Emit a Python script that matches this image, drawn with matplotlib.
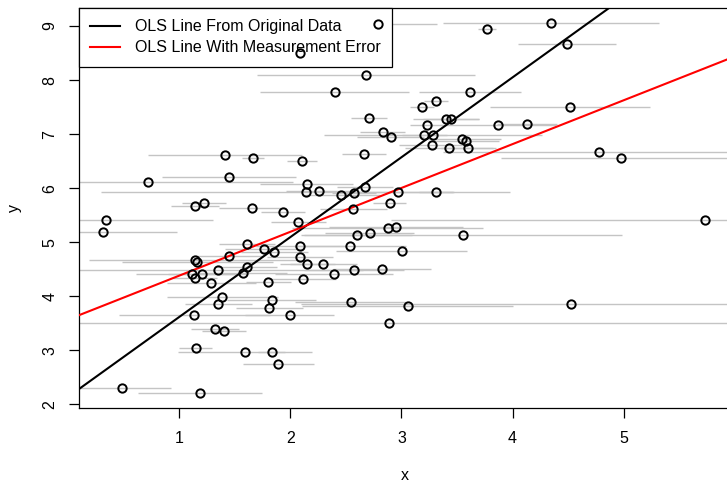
import numpy as np
import matplotlib
matplotlib.use("Agg")
import matplotlib.pyplot as plt

plt.rcParams['font.family'] = ['Liberation Sans', 'DejaVu Sans']

# ---- data ----
x_vals = [1.414, 1.663, 0.724, 1.450, 0.319, 0.344, 1.144, 1.225, 1.659, 1.609,
          1.452, 1.144, 1.166, 1.353, 1.114, 1.204, 1.144, 1.288, 1.609, 1.573,
          1.389, 1.353, 1.138, 1.324, 1.405, 1.150, 1.594, 1.834, 1.893, 0.485,
          1.189, 2.891, 1.998, 1.812, 1.834, 1.803, 2.112, 1.764, 1.857, 2.088,
          2.088, 2.154, 2.298, 2.397, 2.538, 2.571, 2.823, 3.003, 2.547, 3.057,
          4.525, 1.935, 2.073, 2.567, 2.598, 2.715, 2.877, 2.951, 2.895, 3.551,
          5.730, 2.148, 2.139, 2.262, 2.454, 2.574, 2.673, 2.969, 3.311, 2.664,
          2.106, 4.777, 4.975, 2.787, 4.345, 3.773, 4.487, 2.088, 2.679, 2.400,
          3.617, 3.311, 3.183, 4.519, 2.711, 3.401, 3.446, 3.228, 3.871, 4.127,
          2.832, 2.904, 3.206, 3.282, 3.278, 3.428, 3.545, 3.577, 3.602]
y_vals = [6.608, 6.552, 6.108, 6.201, 5.194, 5.405, 5.670, 5.731, 5.627, 4.966,
          4.739, 4.670, 4.642, 4.491, 4.411, 4.411, 4.332, 4.250, 4.546, 4.424,
          3.991, 3.856, 3.652, 3.388, 3.362, 3.047, 2.973, 2.962, 2.746, 2.307,
          2.215, 3.499, 3.652, 3.776, 3.924, 4.263, 4.319, 4.879, 4.813, 4.935,
          4.731, 4.596, 4.596, 4.406, 4.929, 4.485, 4.498, 4.831, 3.899, 3.819,
          3.850, 5.564, 5.373, 5.608, 5.133, 5.164, 5.268, 5.286, 5.719, 5.138,
          5.410, 6.077, 5.923, 5.953, 5.873, 5.916, 6.016, 5.934, 5.934, 6.626,
          6.508, 6.663, 6.558, 9.037, 9.056, 8.939, 8.673, 8.506, 8.099, 7.773,
          7.773, 7.618, 7.507, 7.496, 7.298, 7.285, 7.274, 7.174, 7.168, 7.192,
          7.044, 6.952, 6.983, 6.983, 6.793, 6.737, 6.909, 6.872, 6.737]
# half-width of the horizontal measurement-error bar of each point
x_err = [0.69, 0.10, 1.30, 0.60, 0.66, 0.96, 0.22, 0.20, 0.30, 0.25,
         0.30, 0.95, 0.68, 1.30, 0.50, 0.30, 0.20, 0.40, 0.27, 0.40,
         0.50, 0.30, 0.68, 0.22, 0.20, 0.15, 0.60, 0.12, 0.32, 0.44,
         0.56, 3.20, 0.40, 0.30, 0.40, 0.20, 0.30, 0.35, 0.30, 0.40,
         0.30, 0.25, 0.30, 0.53, 0.50, 0.45, 0.44, 0.59, 0.50, 0.95,
         2.43, 0.20, 0.25, 0.30, 0.50, 0.40, 0.86, 0.60, 0.15, 1.43,
         2.82, 0.42, 1.84, 0.30, 0.35, 0.20, 0.25, 0.50, 0.15, 0.20,
         0.135, 1.40, 1.08, 0.53, 0.97, 0.08, 0.44, 0.30, 0.98, 0.67,
         0.46, 0.11, 0.11, 0.72, 0.16, 0.30, 0.25, 0.15, 0.52, 0.27,
         0.20, 0.30, 0.20, 0.98, 0.30, 0.40, 0.35, 0.30, 0.25]

# OLS lines (intercept, slope)
ols_original = (2.134, 1.479)
ols_error = (3.567, 0.812)

legend_labels = ["OLS Line From Original Data", "OLS Line With Measurement Error"]
x_ticks = [1, 2, 3, 4, 5]
y_ticks = [2, 3, 4, 5, 6, 7, 8, 9]

# ---- figure ----
W, H = 727, 483
fig = plt.figure(figsize=(W / 100, H / 100), dpi=100)

xlo, xhi = 0.10, 5.96
ylo, yhi = 1.93, 9.33
# pixel mapping of the reference
px = lambda v: 67.8 + 111.2 * v
py = lambda v: 404.3 - 54.04 * (v - 2)
left, right = px(xlo), px(xhi)
top, bottom = py(yhi), py(ylo)
ax = fig.add_axes([left / W, 1 - bottom / H, (right - left) / W, (bottom - top) / H])
ax.set_xlim(xlo, xhi)
ax.set_ylim(ylo, yhi)

x = np.array(x_vals)
y = np.array(y_vals)
e = np.array(x_err)
ax.hlines(y, x - e, x + e, colors='#c4c4c4', linewidth=1.0, zorder=1)

xx = np.array([xlo, xhi])
ax.plot(xx, ols_original[0] + ols_original[1] * xx, color='black', lw=1.5, zorder=3,
        label=legend_labels[0])
ax.plot(xx, ols_error[0] + ols_error[1] * xx, color='red', lw=1.5, zorder=3,
        label=legend_labels[1])

leg = ax.legend(loc='upper left', bbox_to_anchor=(0, 1), borderaxespad=0,
                fancybox=False, edgecolor='black', framealpha=1, fontsize=11.5,
                handlelength=1.9, handletextpad=0.9, borderpad=0.7,
                labelspacing=0.38)
leg.get_frame().set_linewidth(0.9)
leg.set_zorder(4)

ax.plot(x, y, 'o', ms=6, mfc='none', mec='black', mew=1.4, zorder=5)

for s in ax.spines.values():
    s.set_linewidth(0.9)
ax.set_xticks(x_ticks)
ax.set_yticks(y_ticks)
ax.tick_params(length=7, width=0.9, labelsize=11.5)
ax.tick_params(axis='x', pad=9.5)
ax.tick_params(axis='y', pad=8.5)
for lab in ax.get_yticklabels():
    lab.set_rotation(90)
    lab.set_va('center')
ax.set_xlabel('x', fontsize=11.5, labelpad=16)
ax.set_ylabel('y', fontsize=11.5, labelpad=15)

fig.savefig('out.png', dpi=100)
